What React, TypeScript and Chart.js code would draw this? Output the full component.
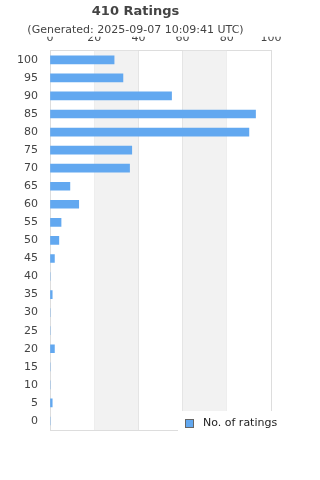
import React, { useEffect, useRef } from "react";
import { Chart, registerables } from "chart.js";

Chart.register(...registerables);

const categories = ["100", "95", "90", "85", "80", "75", "70", "65", "60", "55", "50", "45", "40", "35", "30", "25", "20", "15", "10", "5", "0"];
const ratingCounts = [29, 33, 55, 93, 90, 37, 36, 9, 13, 5, 4, 2, 0, 1, 0, 0, 2, 0, 0, 1, 0];
const xTickValues = [0, 20, 40, 60, 80, 100];
const shadedBands: [number, number][] = [[20, 40], [60, 80]];
const seriesName = "No. of ratings";
const titleText = "410 Ratings";
const subtitleText = "(Generated: 2025-09-07 10:09:41 UTC)";

const FONT = "'DejaVu Sans', sans-serif";
const BAR_COLOR = "#62a8f0";
const GRID = "#dddddd";

const bandsPlugin = {
  id: "bands",
  beforeDatasetsDraw(chart: any) {
    const { ctx, chartArea, scales } = chart;
    const x = scales.x;
    ctx.save();
    ctx.fillStyle = "#f2f2f2";
    for (const [a, b] of shadedBands) {
      const x0 = x.getPixelForValue(a);
      const x1 = x.getPixelForValue(b);
      ctx.fillRect(x0, chartArea.top, x1 - x0, chartArea.bottom - chartArea.top);
    }
    ctx.restore();
  },
  afterDatasetsDraw(chart: any) {
    const { ctx, chartArea } = chart;
    ctx.save();
    ctx.strokeStyle = GRID;
    ctx.lineWidth = 1;
    const y = Math.round(chartArea.bottom) + 0.5;
    ctx.beginPath();
    ctx.moveTo(chartArea.left, y);
    ctx.lineTo(chartArea.right, y);
    ctx.stroke();
    ctx.restore();
  },
};

const overlayLegend = {
  id: "overlayLegend",
  afterDraw(chart: any) {
    const { ctx, chartArea } = chart;
    const ds = chart.data.datasets[0];
    ctx.save();
    ctx.fillStyle = "#ffffff";
    const left = 178;
    const top = Math.round(chartArea.bottom) - 19;
    ctx.fillRect(left, top, chart.width - left, 30);
    ctx.fillStyle = ds.backgroundColor;
    ctx.strokeStyle = "#666666";
    ctx.lineWidth = 1;
    ctx.fillRect(185.5, top + 8.5, 8, 8);
    ctx.strokeRect(185.5, top + 8.5, 8, 8);
    ctx.fillStyle = "#222222";
    ctx.font = "11px " + FONT;
    ctx.textBaseline = "middle";
    ctx.textAlign = "left";
    ctx.fillText(ds.label, 203, top + 12.5);
    ctx.restore();
  },
};

export default function App() {
  const ref = useRef<HTMLCanvasElement | null>(null);
  useEffect(() => {
    document.body.style.margin = "0";
    const chart = new Chart(ref.current!, {
      type: "bar",
      data: {
        labels: categories,
        datasets: [
          {
            label: seriesName,
            data: ratingCounts,
            backgroundColor: BAR_COLOR,
            barThickness: 8,
          },
        ],
      },
      options: {
        indexAxis: "y",
        animation: false,
        responsive: false,
        layout: { padding: { left: 0, right: 49, bottom: 50, top: 0 } },
        plugins: {
          legend: { display: false },
          tooltip: { enabled: false },
          title: {
            display: true,
            text: titleText,
            color: "#444444",
            font: { family: FONT, size: 13, weight: "bold" },
            padding: { top: 4, bottom: 2 },
          },
          subtitle: {
            display: true,
            text: subtitleText,
            color: "#444444",
            font: { family: FONT, size: 11 },
            padding: { top: 2, bottom: 0 },
          },
        },
        scales: {
          x: {
            position: "top",
            min: 0,
            max: 100,
            afterBuildTicks(scale: any) {
              scale.ticks = xTickValues.map((v) => ({ value: v }));
            },
            afterFit(scale: any) {
              scale.height = 14;
            },
            ticks: {
              color: "#444444",
              font: { family: FONT, size: 11 },
              padding: 6,
            },
            grid: { color: GRID, drawTicks: false },
            border: { color: GRID },
          },
          y: {
            afterFit(scale: any) {
              scale.width = 50;
            },
            ticks: {
              color: "#444444",
              font: { family: FONT, size: 11 },
              padding: 12,
              autoSkip: false,
            },
            grid: { display: false, drawTicks: false },
            border: { color: GRID },
          },
        },
      },
      plugins: [bandsPlugin, overlayLegend],
    });
    return () => chart.destroy();
  }, []);
  return (
    <div style={{ position: "absolute", left: 0, top: 0, width: 320, height: 480 }}>
      <canvas ref={ref} width={320} height={480} />
    </div>
  );
}
